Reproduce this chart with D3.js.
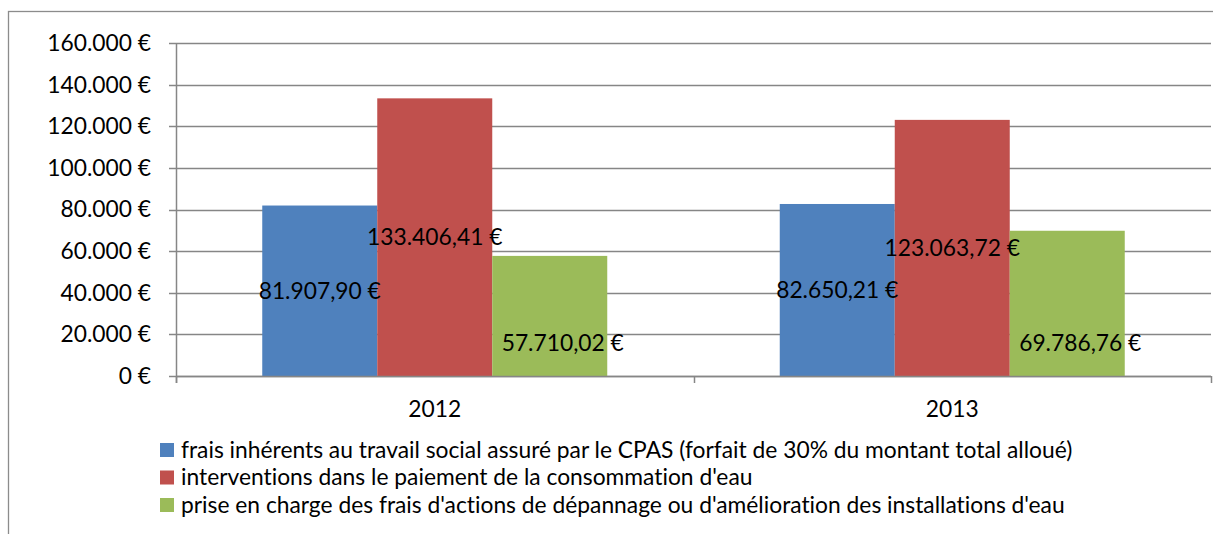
<!DOCTYPE html>
<html>
<head>
<meta charset="utf-8">
<script src="https://cdn.jsdelivr.net/npm/d3@7"></script>
<style>
  body { margin: 0; background: #fff; }
  svg text { font-family: Lato, "Open Sans", sans-serif; fill: #000; font-variant-ligatures: none; font-feature-settings: "liga" 0; }
</style>
</head>
<body>
<div id="chart"></div>
<script>
// data
var years = ["2012", "2013"];
var seriesNames = [
    "frais inhérents au travail social assuré par le CPAS (forfait de 30% du montant total alloué)",
    "interventions dans le paiement de la consommation d'eau",
    "prise en charge des frais d'actions de dépannage ou d'amélioration des installations d'eau"
];
var fraisCPAS = [81907.90, 82650.21];
var interventions = [133406.41, 123063.72];
var depannage = [57710.02, 69786.76];
var yTicks = [0, 20000, 40000, 60000, 80000, 100000, 120000, 140000, 160000];

var colors = ["#4F81BD", "#C0504D", "#9BBB59"];
var fontSize = 22.8;

var W = 1213, H = 534;
var plot = { left: 176, right: 1211, top: 43, bottom: 376 };

var locale = d3.formatLocale({ decimal: ",", thousands: ".", grouping: [3], currency: ["", " €"] });
var fmtAxis = locale.format("$,.0f");
var fmtLabel = locale.format("$,.2f");

var seriesValues = [fraisCPAS, interventions, depannage];
var dataset = [];
for (var s = 0; s < seriesValues.length; s++) {
    for (var i = 0; i < years.length; i++) {
        dataset.push({ series: s, year: years[i], value: seriesValues[s][i] });
    }
}

var svg = d3.select("#chart")
    .append("svg")
        .attr("width", W)
        .attr("height", H);

// chart frame (runs off the right and bottom of the picture)
svg.append("rect")
    .attr("x", 8.5)
    .attr("y", 11.5)
    .attr("width", W + 50)
    .attr("height", H + 50)
    .attr("fill", "none")
    .attr("stroke", "#8c8c8c")
    .attr("stroke-width", 1.3);

var xScale = d3.scaleBand()
    .domain(years)
    .range([plot.left, plot.right]);

var xInner = d3.scaleBand()
    .domain(d3.range(seriesNames.length))
    .range([0, xScale.bandwidth() * 2 / 3])
    .paddingInner(0);

var yScale = d3.scaleLinear()
    .domain([0, 160000])
    .range([plot.bottom, plot.top]);

// gridlines
svg.append("g")
    .selectAll("line")
    .data(yTicks)
    .enter()
    .append("line")
        .attr("x1", plot.left - 7)
        .attr("x2", plot.right)
        .attr("y1", d => Math.round(yScale(d)) + 0.5)
        .attr("y2", d => Math.round(yScale(d)) + 0.5)
        .attr("stroke", "#868686")
        .attr("stroke-width", 1.5);

// bars
var groupOffset = xScale.bandwidth() / 6;
svg.append("g")
    .selectAll("rect")
    .data(dataset)
    .enter()
    .append("rect")
        .attr("x", d => xScale(d.year) + groupOffset + xInner(d.series))
        .attr("y", d => yScale(d.value))
        .attr("width", xInner.bandwidth())
        .attr("height", d => yScale(0) - yScale(d.value))
        .attr("fill", d => colors[d.series]);

// axes lines
svg.append("line")
    .attr("x1", plot.left + 0.5).attr("x2", plot.left + 0.5)
    .attr("y1", plot.top).attr("y2", plot.bottom + 7)
    .attr("stroke", "#868686").attr("stroke-width", 1.5);

svg.append("line")
    .attr("x1", plot.left).attr("x2", plot.right)
    .attr("y1", plot.bottom + 0.5).attr("y2", plot.bottom + 0.5)
    .attr("stroke", "#868686").attr("stroke-width", 1.5);

// category boundary ticks
var catTicks = years.map(d => xScale(d)).concat([plot.right]);
svg.append("g")
    .selectAll("line")
    .data(catTicks)
    .enter()
    .append("line")
        .attr("x1", d => Math.round(d) + 0.5)
        .attr("x2", d => Math.round(d) + 0.5)
        .attr("y1", plot.bottom)
        .attr("y2", plot.bottom + 7)
        .attr("stroke", "#868686")
        .attr("stroke-width", 1.5);

// y tick labels
svg.append("g")
    .selectAll("text")
    .data(yTicks)
    .enter()
    .append("text")
        .attr("x", 151)
        .attr("y", d => yScale(d))
        .attr("dy", "0.35em")
        .attr("text-anchor", "end")
        .style("font-size", fontSize + "px")
        .text(d => fmtAxis(d));

// x labels
svg.append("g")
    .selectAll("text")
    .data(years)
    .enter()
    .append("text")
        .attr("x", d => xScale(d) + xScale.bandwidth() / 2)
        .attr("y", 417)
        .attr("text-anchor", "middle")
        .style("font-size", fontSize + "px")
        .text(d => d);

// data labels: first two centred in the bar, the green ones were moved down near the base
svg.append("g")
    .selectAll("text")
    .data(dataset)
    .enter()
    .append("text")
        .attr("x", function (d) {
            var cx = xScale(d.year) + groupOffset + xInner(d.series) + xInner.bandwidth() / 2;
            return d.series === 2 ? cx + 13 : cx;
        })
        .attr("y", function (d) {
            if (d.series === 2) return yScale(0) - 33;
            return (yScale(d.value) + yScale(0)) / 2;
        })
        .attr("dy", "0.35em")
        .attr("text-anchor", "middle")
        .style("font-size", fontSize + "px")
        .text(d => fmtLabel(d.value));

// legend
var legend = svg.append("g")
    .selectAll("g")
    .data(seriesNames)
    .enter()
    .append("g")
        .attr("transform", (d, i) => "translate(160," + (443 + i * 27.5) + ")");

legend.append("rect")
    .attr("width", 14)
    .attr("height", 14)
    .attr("fill", (d, i) => colors[i]);

legend.append("text")
    .attr("x", 21)
    .attr("y", 7)
    .attr("dy", "0.35em")
    .style("font-size", fontSize + "px")
    .text(d => d);
</script>
</body>
</html>
